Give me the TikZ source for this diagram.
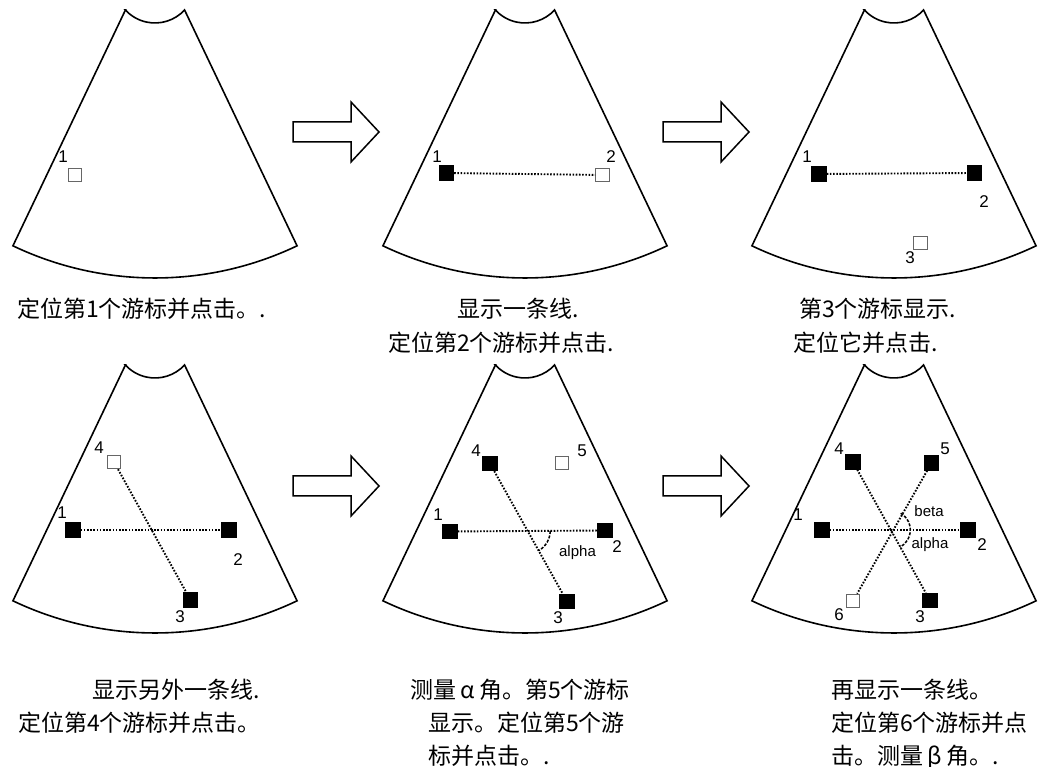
\documentclass[tikz,border=0pt]{standalone}
\usepackage{fontspec}
\newfontfamily\cjk{Noto Sans CJK SC}
\newfontfamily\labf{Liberation Sans}
\usetikzlibrary{intersections}
\newcommand\fansector[2]{\draw[fanline] ([shift={(244.5:68.7)}]#1,#2) -- ([shift={(244.5:330)}]#1,#2) arc[start angle=244.5,end angle=295.5,radius=330] -- ([shift={(295.5:68.7)}]#1,#2) arc[start angle=-42.6,end angle=-137.4,radius=40.2] -- cycle;}
\newcommand\bigarr[2]{\draw[bigarrow] (#1,#2+10) -- (#1+58,#2+10) -- (#1+58,#2+30) -- (#1+86,#2) -- (#1+58,#2-30) -- (#1+58,#2-10) -- (#1,#2-10) -- cycle;}
\newcommand\fw[1]{\makebox[1em]{#1}}
\begin{document}
\begin{tikzpicture}[x=1pt,y=1pt,
 fanline/.style={line width=1.6pt, line join=miter},
 fullsq/.style={draw=black, fill=black, minimum size=14.5pt, inner sep=0pt, line width=0.8pt},
 opensq/.style={draw=gray!80!black, fill=white, minimum size=13.5pt, inner sep=0pt, line width=1.1pt},
 lab/.style={font=\labf\fontsize{17}{17}\selectfont, inner sep=0pt},
 glab/.style={font=\labf\fontsize{15}{15}\selectfont, inner sep=0pt},
 captext/.style={font=\cjk\fontsize{23}{23}\selectfont, anchor=base west, inner sep=0pt},
 dotline/.style={line width=1.9pt, dash pattern=on 1.6pt off 1.6pt, draw=black},
 anglearc/.style={line width=1.5pt, dash pattern=on 3pt off 1.5pt},
 bigarrow/.style={line width=1.5pt, fill=white}]
\useasboundingbox (0,0) rectangle (1042,767);
% sectors
\fansector{155}{819}
\fansector{525}{819}
\fansector{894}{819}
\fansector{155}{464}
\fansector{525}{464}
\fansector{894}{464}
% arrows
\bigarr{293}{635}
\bigarr{663}{635}
\bigarr{293}{281}
\bigarr{663}{281}
% panel 1
\node[opensq] (a1) at (75,592) {};
\node[lab] (a1l) at (63,610) {1};
% panel 2
\node[fullsq] (b1) at (446.5,594) {};
\node[opensq] (b2) at (602.5,592) {};
\node[lab] (b1l) at (437,610) {1};
\node[lab] (b2l) at (611,610) {2};
\draw[dotline] (b1) -- (b2);
% panel 3
\node[fullsq] (c1) at (819,593) {};
\node[fullsq] (c2) at (974.5,594) {};
\node[opensq] (c3) at (920.5,524) {};
\node[lab] (c1l) at (807,610) {1};
\node[lab] (c2l) at (984,565) {2};
\node[lab] (c3l) at (910,509) {3};
\draw[dotline] (c1) -- (c2);
% panel 4
\node[opensq] (d4) at (114,305) {};
\node[fullsq] (d1) at (73,237) {};
\node[fullsq] (d2) at (229,237) {};
\node[fullsq] (d3) at (190.5,167) {};
\node[lab] (d4l) at (99,319) {4};
\node[lab] (d1l) at (62,254) {1};
\node[lab] (d2l) at (238,207) {2};
\node[lab] (d3l) at (180,150) {3};
\draw[dotline] (d1) -- (d2);
\draw[dotline] (d4) -- (d3);
% panel 5
\node[fullsq] (e4) at (490,303.5) {};
\node[opensq] (e5) at (562,304) {};
\node[fullsq] (e1) at (450,235.5) {};
\node[fullsq] (e2) at (605,236.5) {};
\node[fullsq] (e3) at (567,165.5) {};
\node[lab] (e4l) at (476,316) {4};
\node[lab] (e5l) at (582,316) {5};
\node[lab] (e1l) at (438,252) {1};
\node[lab] (e2l) at (617,220) {2};
\node[lab] (e3l) at (558,149) {3};
\draw[dotline, name path=eh] (e1) -- (e2);
\draw[dotline, name path=ed] (e4) -- (e3);
\path[name intersections={of=eh and ed, by=ex}];
\draw[anglearc] (ex) ++(0:22.5) arc[start angle=0,end angle=-60.8,radius=22.5];
\node[glab] (ealpha) at (577.5,214) {alpha};
% panel 6
\node[fullsq] (f4) at (853,305) {};
\node[fullsq] (f5) at (931.5,304) {};
\node[fullsq] (f1) at (822,237) {};
\node[fullsq] (f2) at (968,237) {};
\node[opensq] (f6) at (853,166) {};
\node[fullsq] (f3) at (930,166.5) {};
\node[lab] (f4l) at (839,318) {4};
\node[lab] (f5l) at (945,318) {5};
\node[lab] (f1l) at (798,252) {1};
\node[lab] (f2l) at (982,222) {2};
\node[lab] (f6l) at (839,152) {6};
\node[lab] (f3l) at (920,150) {3};
\draw[dotline, name path=fh] (f1) -- (f2);
\draw[dotline, name path=fd] (f4) -- (f3);
\draw[dotline] (f5) -- (f6);
\path[name intersections={of=fh and fd, by=fx}];
\draw[anglearc] (fx) ++(59.5:19.5) arc[start angle=59.5,end angle=-61.7,radius=19.5];
\node[glab] (fbeta) at (929,256) {beta};
\node[glab] (falpha) at (930,222) {alpha};
% captions
\node[captext] (t1) at (17,449) {定位第1个游标并点击。.};
\node[captext] (t2a) at (457,449) {显示一条线.};
\node[captext] (t2b) at (388,415) {定位第2个游标并点击.};
\node[captext] (t3a) at (799,449) {第3个游标显示.};
\node[captext] (t3b) at (793,415) {定位它并点击.};
\node[captext] (t4a) at (92,68) {显示另外一条线.};
\node[captext] (t4b) at (18,35) {定位第4个游标并点击。};
\node[captext] (t5a) at (410,68) {测量\fw{α}角。第5个游标};
\node[captext] (t5b) at (428,35) {显示。定位第5个游};
\node[captext] (t5c) at (428,2) {标并点击。.};
\node[captext] (t6a) at (831,68) {再显示一条线。};
\node[captext] (t6b) at (831,35) {定位第6个游标并点};
\node[captext] (t6c) at (831,2) {击。测量\fw{β}角。.};
\end{tikzpicture}
\end{document}
